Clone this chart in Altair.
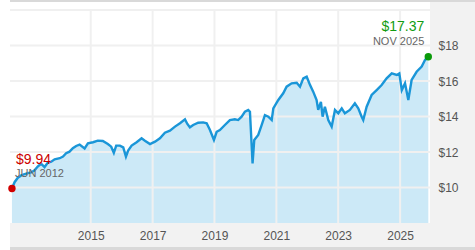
import altair as alt
import pandas as pd

# ---- data ----
dates = [
    "2012-06-15", "2012-07-16", "2012-08-24", "2012-10-02", "2012-11-12", "2012-12-20",
    "2013-01-29", "2013-03-09", "2013-04-15", "2013-05-25", "2013-07-05", "2013-08-13",
    "2013-09-22", "2013-11-01", "2013-12-31", "2014-02-08", "2014-03-17", "2014-04-26",
    "2014-06-04", "2014-07-13", "2014-08-23", "2014-10-21", "2014-11-29", "2015-01-28",
    "2015-03-26", "2015-05-24", "2015-07-22", "2015-08-31", "2015-10-01", "2015-10-29",
    "2015-12-12", "2016-01-20", "2016-02-21", "2016-03-18", "2016-04-28", "2016-06-26",
    "2016-08-24", "2016-10-02", "2016-12-01", "2017-01-29", "2017-03-28", "2017-05-26",
    "2017-07-24", "2017-09-22", "2017-11-20", "2018-01-18", "2018-02-15", "2018-03-17",
    "2018-04-25", "2018-06-23", "2018-08-21", "2018-10-01", "2018-11-09", "2018-12-26",
    "2019-01-27", "2019-03-06", "2019-05-04", "2019-07-02", "2019-08-30", "2019-10-08",
    "2019-11-18", "2019-12-27", "2020-02-04", "2020-02-24", "2020-03-14", "2020-03-26",
    "2020-04-15", "2020-06-01", "2020-07-11", "2020-08-19", "2020-09-28", "2020-11-07",
    "2020-11-26", "2021-01-24", "2021-03-23", "2021-05-02", "2021-06-30", "2021-08-29",
    "2021-10-07", "2021-11-15", "2021-12-25", "2022-02-03", "2022-03-12", "2022-04-21",
    "2022-05-10", "2022-06-11", "2022-07-01", "2022-07-28", "2022-09-06", "2022-10-16",
    "2022-11-24", "2023-01-02", "2023-02-12", "2023-03-21", "2023-05-19", "2023-07-17",
    "2023-08-26", "2023-10-05", "2023-10-24", "2023-12-03", "2024-01-31", "2024-03-30",
    "2024-05-28", "2024-07-26", "2024-09-24", "2024-11-22", "2024-12-23", "2025-01-21",
    "2025-02-28", "2025-04-08", "2025-05-17", "2025-07-15", "2025-09-13", "2025-10-22",
    "2025-11-30",
]
values = [
    9.94, 10.30, 10.55, 10.68, 10.75, 10.81,
    10.85, 10.97, 11.18, 11.34, 11.15, 11.40,
    11.45, 11.59, 11.65, 11.74, 11.93, 12.02,
    12.21, 12.34, 12.42, 12.20, 12.49, 12.55,
    12.64, 12.62, 12.45, 12.30, 11.95, 12.36,
    12.36, 12.26, 11.74, 12.08, 12.36, 12.55,
    12.77, 12.64, 12.45, 12.58, 12.77, 13.09,
    13.20, 13.43, 13.62, 13.84, 13.58, 13.39,
    13.52, 13.65, 13.67, 13.62, 13.24, 12.68,
    13.14, 13.24, 13.52, 13.80, 13.84, 13.80,
    13.99, 14.27, 14.37, 14.27, 12.49, 11.36,
    12.68, 12.96, 13.52, 14.08, 13.99, 13.80,
    14.46, 14.93, 15.31, 15.68, 15.87, 15.90,
    15.68, 16.15, 16.24, 15.77, 15.40, 14.93,
    14.37, 14.83, 13.99, 14.55, 13.80, 13.43,
    14.37, 14.18, 14.46, 14.18, 14.37, 14.74,
    14.46, 13.99, 13.80, 14.55, 15.21, 15.49,
    15.77, 16.15, 16.43, 16.34, 16.43, 15.49,
    15.87, 14.93, 16.06, 16.52, 16.81, 17.18,
    17.37,
]
year_ticks = [2015, 2017, 2019, 2021, 2023, 2025]
price_ticks = [10, 12, 14, 16, 18]
grid_prices = [10, 12, 14, 16, 18, 20]
start_texts = ["$9.94", "JUN 2012"]
end_texts = ["$17.37", "NOV 2025"]

df = pd.DataFrame({"date": dates, "value": values})
first = df.iloc[[0]].assign(price=start_texts[0], month=start_texts[1])
last = df.iloc[[-1]].assign(price=end_texts[0], month=end_texts[1])
vgrid_df = pd.DataFrame({"date": [f"{y}-01-01" for y in year_ticks]})
hgrid_df = pd.DataFrame({"value": grid_prices})

FONT = "Liberation Sans"
GRID = "#f0f0f0"
BAND = "#f2f2f2"
EDGE = "#d9d9d9"

x_scale = alt.Scale(domain=[alt.DateTime(year=2012, month=5, date=23),
                            alt.DateTime(year=2025, month=12, date=20)])
y_scale = alt.Scale(domain=[8, 20], zero=False, nice=False)

x_axis = alt.Axis(
    values=[alt.DateTime(year=y, month=1, date=1) for y in year_ticks],
    format="%Y", title=None, grid=False, ticks=False, domain=False,
    labelFont=FONT, labelFontSize=12, labelColor="#555555", labelPadding=7,
    labelFlush=False, zindex=1,
)
y_axis = alt.Axis(
    orient="right", values=price_ticks, labelExpr="'$' + datum.value",
    title=None, grid=False, ticks=False, domain=False,
    labelFont=FONT, labelFontSize=12, labelColor="#555555", labelPadding=8,
    zindex=1,
)
X = alt.X("date:T", scale=x_scale, axis=x_axis)
Y = alt.Y("value:Q", scale=y_scale, axis=y_axis)

# chrome bands (outside the plot area)
def band(x0, x1, y0, y1, color):
    return alt.Chart(df.iloc[[0]]).mark_rect(color=color, clip=False).encode(
        x=alt.value(x0), x2=alt.value(x1), y=alt.value(y0), y2=alt.value(y1))

right_band = band(420, 465, -8, 237, BAND)
bottom_band = band(0, 465, 213, 237, BAND)
top_line = band(0, 465, -10, -8, EDGE)
bottom_line = band(0, 465, 237, 240, EDGE)

area = alt.Chart(df).mark_area(color="#cce9f7", clip=True).encode(x=X, y=Y)
vgrid = alt.Chart(vgrid_df).mark_rule(color=GRID, strokeWidth=2).encode(x=X)
hgrid = alt.Chart(hgrid_df).mark_rule(color=GRID, strokeWidth=2).encode(y=Y)
line = alt.Chart(df).mark_line(color="#1a96d8", strokeWidth=2.4).encode(x=X, y=Y)

first_dot = alt.Chart(first).mark_point(filled=True, opacity=1, size=55, color="#d10000").encode(x=X, y=Y)
last_dot = alt.Chart(last).mark_point(filled=True, opacity=1, size=55, color="#0a9a0a").encode(x=X, y=Y)
first_price = alt.Chart(first).mark_text(
    align="left", baseline="alphabetic", dx=4, dy=-25, font=FONT, fontSize=14, color="#cc0000"
).encode(x=X, y=Y, text="price:N")
first_month = alt.Chart(first).mark_text(
    align="left", baseline="alphabetic", dx=3, dy=-12, font=FONT, fontSize=11, color="#666666"
).encode(x=X, y=Y, text="month:N")
last_price = alt.Chart(last).mark_text(
    align="right", baseline="alphabetic", dx=-4, dy=-26, font=FONT, fontSize=14, color="#119c11"
).encode(x=X, y=Y, text="price:N")
last_month = alt.Chart(last).mark_text(
    align="right", baseline="alphabetic", dx=-4, dy=-12, font=FONT, fontSize=11, color="#666666"
).encode(x=X, y=Y, text="month:N")

chart = alt.layer(
    right_band, bottom_band, top_line, bottom_line,
    area, vgrid, hgrid, line,
    first_dot, last_dot, first_price, first_month, last_price, last_month,
).properties(
    width=420, height=213,
    autosize=alt.AutoSizeParams(type="none"),
    padding={"left": 10, "top": 10, "right": 45, "bottom": 27},
    background="white",
).configure_view(stroke=None)

chart.save("out.html", embed_options={"renderer": "svg", "actions": False})
